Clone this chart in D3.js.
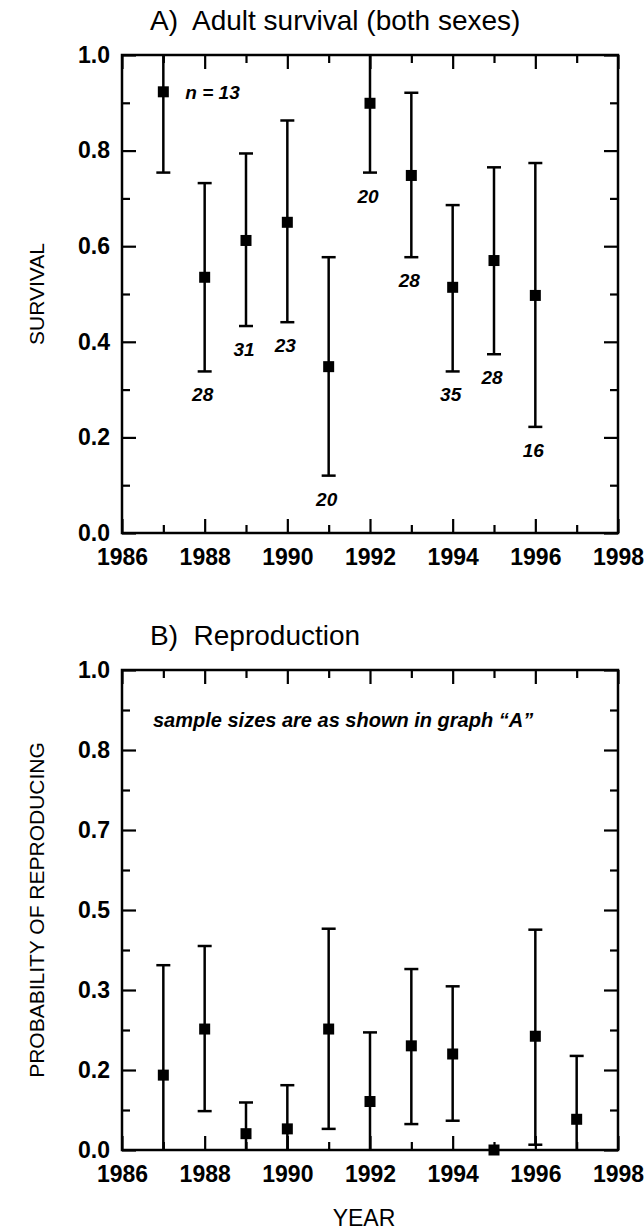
<!DOCTYPE html>
<html>
<head>
<meta charset="utf-8">
<script src="https://cdn.jsdelivr.net/npm/d3@7"></script>
<style>
	body { margin: 0; background: #fff; }
	svg { display: block; font-family: 'Liberation Sans', Arial, sans-serif; }
</style>
</head>
<body>
<svg></svg>
<script>
var width = 644;
var height = 1232;

// panel A: adult survival
var survYears = [1987, 1988, 1989, 1990, 1991, 1992, 1993, 1994, 1995, 1996];
var survival = [0.923, 0.535, 0.612, 0.650, 0.348, 0.899, 0.748, 0.514, 0.570, 0.497];
var survLow = [0.754, 0.338, 0.433, 0.441, 0.120, 0.754, 0.577, 0.338, 0.374, 0.222];
var survHigh = [1.0, 0.732, 0.794, 0.863, 0.577, 1.0, 0.921, 0.686, 0.765, 0.774];
var sampleSizes = ['n = 13', '28', '31', '23', '20', '20', '28', '35', '28', '16'];

// panel B: reproduction
var reproYears = [1987, 1988, 1989, 1990, 1991, 1992, 1993, 1994, 1995, 1996, 1997];
var repro = [0.156, 0.252, 0.034, 0.044, 0.252, 0.101, 0.217, 0.200, 0.0, 0.237, 0.064];
var reproLow = [0, 0.081, 0, 0, 0.044, 0, 0.054, 0.061, 0, 0.011, 0];
var reproHigh = [0.385, 0.425, 0.099, 0.135, 0.461, 0.245, 0.377, 0.341, 0, 0.459, 0.196];

// ticks
var yearTicks = [1986, 1988, 1990, 1992, 1994, 1996, 1998];
var yearMinor = [1987, 1989, 1991, 1993, 1995, 1997];
var survTicks = [0, 0.2, 0.4, 0.6, 0.8, 1.0];
var survMinor = [0.1, 0.3, 0.5, 0.7, 0.9];
var reproTicks = [0, 1 / 6, 2 / 6, 3 / 6, 4 / 6, 5 / 6, 1];
var reproTickLabels = ['0.0', '0.2', '0.3', '0.5', '0.7', '0.8', '1.0'];
var reproMinor = [1 / 12, 3 / 12, 5 / 12, 7 / 12, 9 / 12, 11 / 12];

var svg = d3.select('svg')
	.attr('width', width)
	.attr('height', height);

var left = 122, right = 618;

var x = d3.scaleLinear()
	.domain([1986, 1998])
	.range([left, right]);

function drawPanel(top, bottom, opts) {
	var y = d3.scaleLinear()
		.domain([0, 1])
		.range([bottom, top]);

	var g = svg.append('g');

	// inward ticks on all four sides
	g.append('g')
		.attr('transform', `translate(0,${bottom})`)
		.call(d3.axisBottom(x).tickValues(yearTicks).tickSize(-14).tickPadding(16).tickFormat(d3.format('d')));
	g.append('g')
		.attr('transform', `translate(0,${bottom})`)
		.call(d3.axisBottom(x).tickValues(yearMinor).tickSize(-8).tickFormat(''));
	g.append('g')
		.attr('transform', `translate(0,${top})`)
		.call(d3.axisTop(x).tickValues(yearTicks).tickSize(-14).tickFormat(''));
	g.append('g')
		.attr('transform', `translate(0,${top})`)
		.call(d3.axisTop(x).tickValues(yearMinor).tickSize(-8).tickFormat(''));

	g.append('g')
		.attr('transform', `translate(${left},0)`)
		.call(d3.axisLeft(y).tickValues(opts.ticks).tickSize(-14).tickPadding(12)
			.tickFormat(function(d, i) { return opts.labels[i]; }));
	g.append('g')
		.attr('transform', `translate(${left},0)`)
		.call(d3.axisLeft(y).tickValues(opts.minor).tickSize(-8).tickFormat(''));
	g.append('g')
		.attr('transform', `translate(${right},0)`)
		.call(d3.axisRight(y).tickValues(opts.ticks).tickSize(-14).tickFormat(''));
	g.append('g')
		.attr('transform', `translate(${right},0)`)
		.call(d3.axisRight(y).tickValues(opts.minor).tickSize(-8).tickFormat(''));

	g.selectAll('.domain').remove();
	g.selectAll('.tick line').attr('stroke', '#000').attr('stroke-width', 2.2);
	g.selectAll('.tick text')
		.attr('fill', '#000')
		.style('font-size', '23px')
		.style('font-weight', 'bold');

	g.append('rect')
		.attr('x', left)
		.attr('y', top)
		.attr('width', right - left)
		.attr('height', bottom - top)
		.attr('fill', 'none')
		.attr('stroke', '#000')
		.attr('stroke-width', 2.5);

	// error bars
	var bars = g.append('g');
	opts.years.forEach(function(yr, i) {
		var lo = opts.low[i], hi = opts.high[i];
		if (hi > lo) {
			bars.append('line')
				.attr('x1', x(yr)).attr('x2', x(yr))
				.attr('y1', y(lo)).attr('y2', y(hi))
				.attr('stroke', '#000').attr('stroke-width', 2.5);
			[lo, hi].forEach(function(v) {
				if (v > 0 && v < 1) {
					bars.append('line')
						.attr('x1', x(yr) - 7).attr('x2', x(yr) + 7)
						.attr('y1', y(v)).attr('y2', y(v))
						.attr('stroke', '#000').attr('stroke-width', 2.5);
				}
			});
		}
		bars.append('rect')
			.attr('x', x(yr) - 5.5)
			.attr('y', y(opts.values[i]) - 5.5)
			.attr('width', 11)
			.attr('height', 11)
			.attr('fill', '#000');
	});

	// panel title
	svg.append('text')
		.attr('x', 150)
		.attr('y', top - 25)
		.style('font-size', '28px')
		.attr('xml:space', 'preserve')
		.text(opts.title);

	// axis title
	svg.append('text')
		.attr('transform', `translate(44,${(top + bottom) / 2}) rotate(-90)`)
		.attr('text-anchor', 'middle')
		.style('font-size', '21px')
		.text(opts.yTitle);

	return { g: g, y: y };
}

var panelA = drawPanel(55, 533, {
	title: 'A)  Adult survival (both sexes)',
	yTitle: 'SURVIVAL',
	ticks: survTicks,
	labels: survTicks.map(d3.format('.1f')),
	minor: survMinor,
	years: survYears,
	values: survival,
	low: survLow,
	high: survHigh
});

// sample size labels
panelA.g.append('g')
	.selectAll('text')
	.data(survYears)
	.enter()
	.append('text')
	.attr('x', function(d, i) { return i === 0 ? x(d) + 22 : x(d) - 2; })
	.attr('y', function(d, i) { return i === 0 ? panelA.y(survival[i]) + 7 : panelA.y(survLow[i]) + 30; })
	.attr('text-anchor', function(d, i) { return i === 0 ? 'start' : 'middle'; })
	.style('font-size', '19px')
	.style('font-style', 'italic')
	.style('font-weight', 'bold')
	.text(function(d, i) { return sampleSizes[i]; });

var panelB = drawPanel(670, 1150, {
	title: 'B)  Reproduction',
	yTitle: 'PROBABILITY OF REPRODUCING',
	ticks: reproTicks,
	labels: reproTickLabels,
	minor: reproMinor,
	years: reproYears,
	values: repro,
	low: reproLow,
	high: reproHigh
});

panelB.g.append('text')
	.attr('x', x(1986.75))
	.attr('y', panelB.y(0.895) + 7)
	.style('font-size', '20px')
	.style('font-style', 'italic')
	.style('font-weight', 'bold')
	.text('sample sizes are as shown in graph \u201CA\u201D');

svg.append('text')
	.attr('x', 364)
	.attr('y', 1226)
	.attr('text-anchor', 'middle')
	.style('font-size', '23px')
	.text('YEAR');
</script>
</body>
</html>
